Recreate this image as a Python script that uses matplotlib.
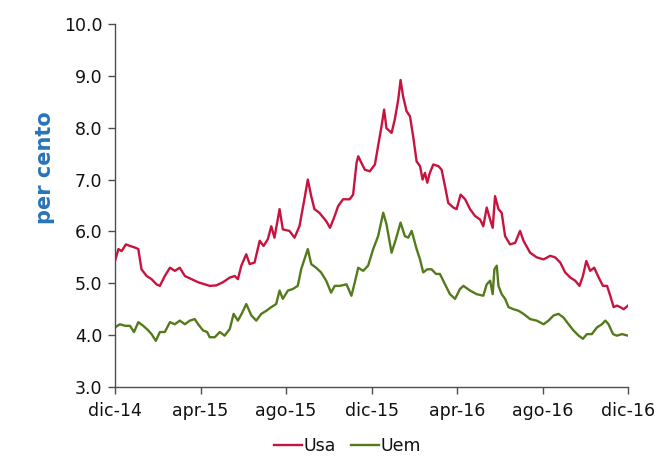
import matplotlib
matplotlib.use("Agg")
import matplotlib.pyplot as plt

# month offsets from dic-14
usa_mesi = [0.00, 0.16, 0.31, 0.51, 0.70, 0.93, 1.09, 1.24, 1.48, 1.71, 1.94, 2.10, 2.33, 2.57, 2.80,
            3.03, 3.27, 3.58, 3.89, 4.20, 4.43, 4.74, 5.05, 5.37, 5.60, 5.75, 5.91, 6.14, 6.30, 6.53,
            6.77, 6.95, 7.15, 7.31, 7.46, 7.70, 7.85, 8.16, 8.40, 8.63, 8.86, 9.02, 9.18, 9.33, 9.56,
            9.88, 10.06, 10.28, 10.44, 10.67, 10.98, 11.14, 11.30, 11.38, 11.53, 11.69, 11.92, 12.16,
            12.36, 12.47, 12.59, 12.70, 12.94, 13.09, 13.25, 13.36, 13.48, 13.64, 13.80, 13.95, 14.11,
            14.27, 14.39, 14.50, 14.61, 14.73, 14.89, 15.13, 15.28, 15.44, 15.59, 15.83, 15.98, 16.17,
            16.38, 16.61, 16.84, 17.08, 17.23, 17.39, 17.55, 17.67, 17.78, 17.94, 18.09, 18.25, 18.48,
            18.72, 18.95, 19.11, 19.42, 19.73, 20.05, 20.36, 20.59, 20.83, 21.06, 21.30, 21.53, 21.73,
            21.89, 22.05, 22.23, 22.42, 22.63, 22.83, 23.02, 23.17, 23.33, 23.48, 23.64, 23.80, 24.00]
usa = [5.43, 5.66, 5.62, 5.75, 5.72, 5.69, 5.66, 5.27, 5.14, 5.08, 4.98, 4.95, 5.14, 5.30, 5.24,
       5.30, 5.14, 5.08, 5.02, 4.98, 4.95, 4.96, 5.02, 5.11, 5.14, 5.08, 5.34, 5.56, 5.37, 5.40,
       5.82, 5.72, 5.85, 6.10, 5.88, 6.43, 6.04, 6.01, 5.88, 6.10, 6.62, 7.00, 6.68, 6.43, 6.36,
       6.20, 6.07, 6.30, 6.49, 6.62, 6.62, 6.71, 7.32, 7.45, 7.32, 7.19, 7.16, 7.29,
       7.77, 8.03, 8.35, 7.99, 7.90, 8.16, 8.54, 8.92, 8.60, 8.32, 8.22, 7.83, 7.35,
       7.26, 7.00, 7.13, 6.94, 7.13, 7.29, 7.26, 7.19, 6.87, 6.55, 6.46, 6.43, 6.71,
       6.62, 6.43, 6.30, 6.23, 6.10, 6.46, 6.23, 6.07, 6.68, 6.43, 6.36, 5.91, 5.75,
       5.78, 6.01, 5.82, 5.59, 5.50, 5.46, 5.53, 5.50, 5.40, 5.21, 5.11, 5.05, 4.95,
       5.14, 5.43, 5.24, 5.30, 5.11, 4.95, 4.95, 4.76, 4.54, 4.57, 4.54, 4.50, 4.57]

uem_mesi = [0.00, 0.23, 0.47, 0.70, 0.89, 1.09, 1.32, 1.56, 1.71, 1.91, 2.10, 2.33, 2.57, 2.80, 3.03,
            3.27, 3.50, 3.73, 3.89, 4.12, 4.31, 4.43, 4.67, 4.90, 5.13, 5.37, 5.55, 5.75, 5.96, 6.14,
            6.38, 6.61, 6.84, 7.08, 7.31, 7.54, 7.70, 7.85, 8.09, 8.32, 8.55, 8.71, 8.86, 9.02, 9.18,
            9.41, 9.64, 9.88, 10.11, 10.28, 10.52, 10.83, 11.06, 11.22, 11.38, 11.61, 11.84, 12.08,
            12.31, 12.55, 12.70, 12.94, 13.14, 13.36, 13.56, 13.72, 13.88, 14.11, 14.27, 14.42, 14.61,
            14.81, 15.02, 15.20, 15.44, 15.67, 15.91, 16.14, 16.30, 16.61, 16.92, 17.23, 17.39, 17.55,
            17.67, 17.75, 17.86, 17.94, 18.09, 18.25, 18.41, 18.64, 18.88, 19.11, 19.42, 19.73, 20.05,
            20.28, 20.52, 20.75, 20.98, 21.22, 21.45, 21.69, 21.89, 22.08, 22.31, 22.55, 22.78, 22.94,
            23.09, 23.30, 23.48, 23.72, 24.00]
uem = [4.15, 4.21, 4.18, 4.18, 4.06, 4.25, 4.18, 4.09, 4.02, 3.89, 4.06, 4.06, 4.25, 4.21, 4.28,
       4.21, 4.28, 4.31, 4.21, 4.09, 4.06, 3.96, 3.96, 4.06, 3.99, 4.12, 4.41, 4.28, 4.44, 4.60,
       4.38, 4.28, 4.41, 4.47, 4.54, 4.60, 4.86, 4.70, 4.86, 4.89, 4.95, 5.27, 5.46, 5.66, 5.37,
       5.30, 5.21, 5.05, 4.82, 4.95, 4.95, 4.98, 4.76, 5.02, 5.30, 5.24, 5.34, 5.66,
       5.91, 6.36, 6.14, 5.59, 5.85, 6.17, 5.91, 5.88, 6.01, 5.66, 5.46, 5.21, 5.27,
       5.27, 5.18, 5.18, 4.98, 4.79, 4.70, 4.89, 4.95, 4.86, 4.79, 4.76, 4.98, 5.05,
       4.79, 5.27, 5.34, 4.95, 4.79, 4.70, 4.54, 4.50, 4.47, 4.41, 4.31, 4.28, 4.21,
       4.28, 4.38, 4.41, 4.34, 4.21, 4.09, 3.99, 3.93, 4.02, 4.02, 4.15, 4.21, 4.28,
       4.21, 4.02, 3.99, 4.02, 3.99]

tick_mesi = [0, 4, 8, 12, 16, 20, 24]
tick_labels = ["dic-14", "apr-15", "ago-15", "dic-15", "apr-16", "ago-16", "dic-16"]
y_ticks = [3.0, 4.0, 5.0, 6.0, 7.0, 8.0, 9.0, 10.0]

fig = plt.figure(figsize=(6.66, 4.57), dpi=100)
ax = fig.add_axes([115/666, 1-387/457, (628-115)/666, (387-24)/457])

ax.plot(usa_mesi, usa, color="#C8133F", lw=1.7, label="Usa")
ax.plot(uem_mesi, uem, color="#557A1C", lw=1.7, label="Uem")

ax.set_xlim(0, 24)
ax.set_ylim(3, 10)
ax.set_xticks(tick_mesi)
ax.set_xticklabels(tick_labels)
ax.set_yticks(y_ticks)
ax.set_yticklabels([f"{v:.1f}" for v in y_ticks])
for s in ["top", "right"]:
    ax.spines[s].set_visible(False)
for s in ["left", "bottom"]:
    ax.spines[s].set_color("#4d4d4d")
    ax.spines[s].set_linewidth(1.0)
ax.tick_params(axis="both", direction="out", length=5, width=1, color="#4d4d4d",
               labelsize=12.5, labelcolor="#111111")
ax.tick_params(axis="x", pad=6)
ax.tick_params(axis="y", pad=4)

fig.text(45/666, 1-168/457, "per cento", rotation=90, ha="center", va="center",
         fontsize=15, color="#2874B8", fontweight="bold")

fig.legend(loc="center", bbox_to_anchor=(0.522, 1-446/457), ncol=2, frameon=False,
           fontsize=12.5, handlelength=1.6, handletextpad=0.1, columnspacing=0.9,
           labelcolor="#111111", borderpad=0.1)

fig.savefig("out.png", dpi=100)
